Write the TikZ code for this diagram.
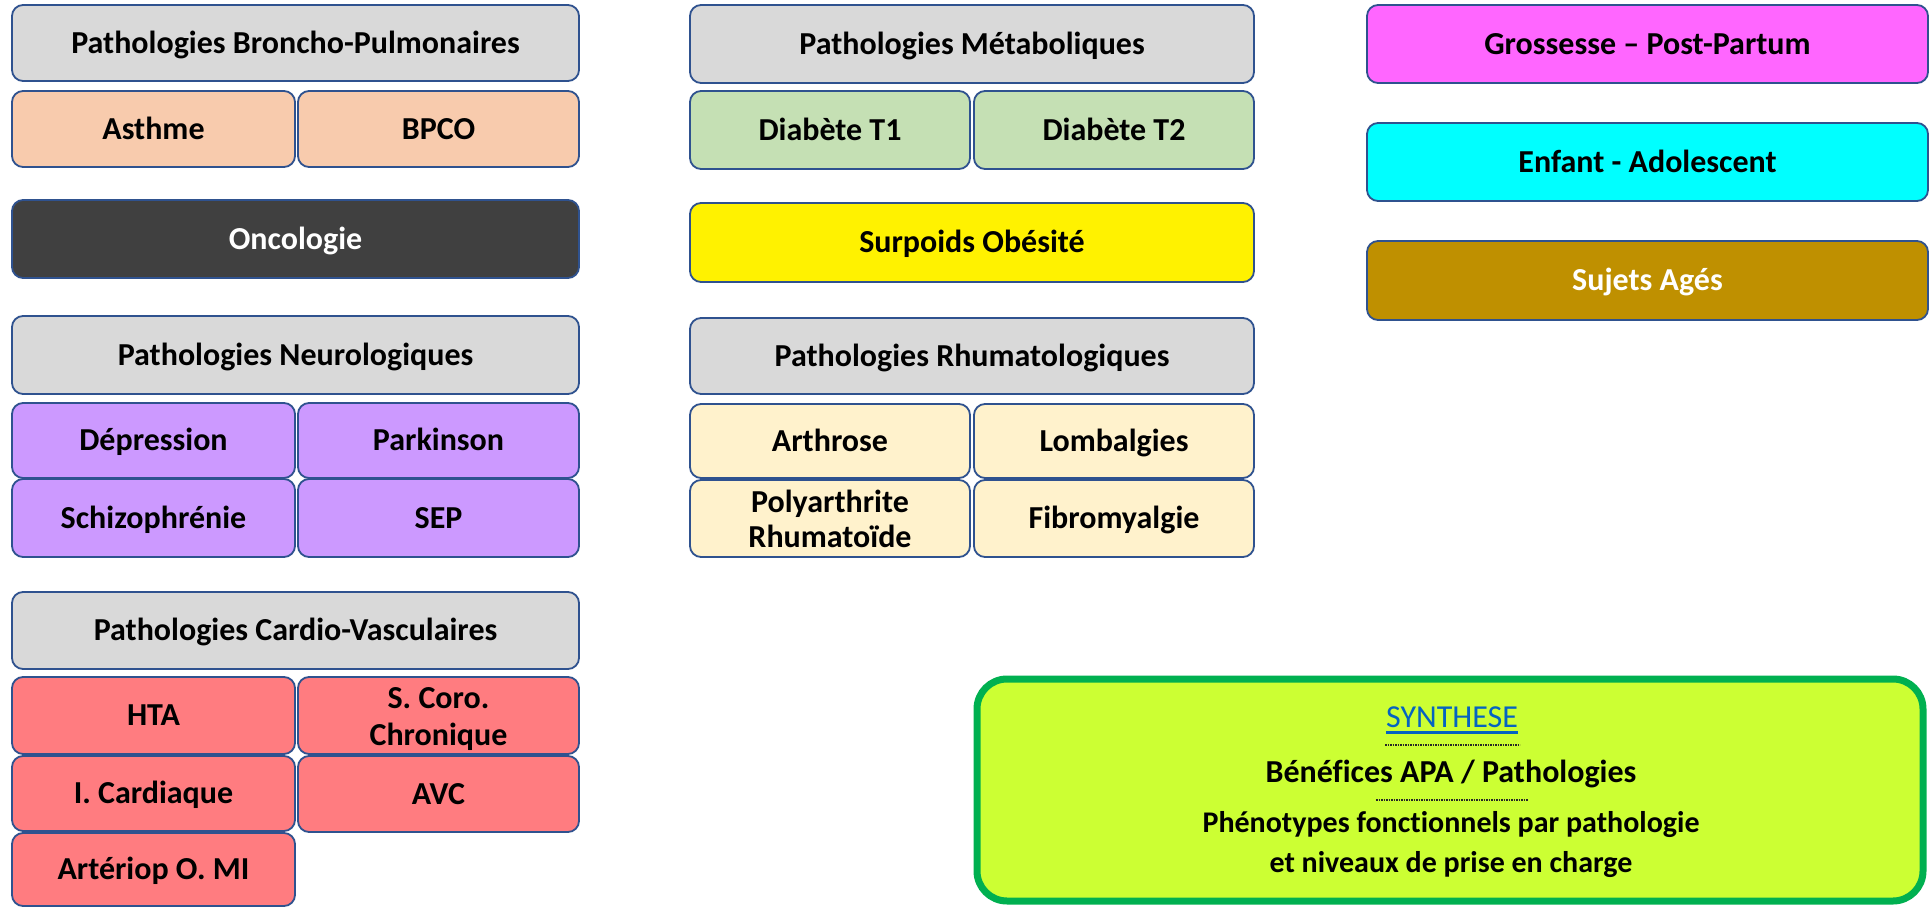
\documentclass[tikz,border=0pt]{standalone}
\usepackage{fontspec}
\setmainfont{Carlito}[Ligatures={NoCommon}]
\definecolor{outline}{HTML}{2F528F}
\definecolor{headgrey}{HTML}{D9D9D9}
\definecolor{peach}{HTML}{F8CBAD}
\definecolor{onco}{HTML}{404040}
\definecolor{lilac}{HTML}{CC99FF}
\definecolor{coral}{HTML}{FF7C80}
\definecolor{sage}{HTML}{C5E0B4}
\definecolor{cream}{HTML}{FFF2CC}
\definecolor{magenta2}{HTML}{FF66FF}
\definecolor{cyan2}{HTML}{00FFFF}
\definecolor{gold}{HTML}{BF9000}
\definecolor{lime}{HTML}{CCFF33}
\definecolor{synborder}{HTML}{00B050}
\definecolor{linkblue}{HTML}{0563C1}

% one rounded cell given by its corners: name, x1, y1, x2, y2, style, text
\newcommand\cell[7]{%
  \pgfmathsetmacro\cellw{#4-#2}%
  \pgfmathsetmacro\cellh{#5-#3}%
  \node[cellbox,#6,minimum width=\cellw pt,minimum height=\cellh pt]
    (#1) at ({(#2+#4)/2},{(#3+#5)/2}) {#7};}

\begin{document}
\begin{tikzpicture}[x=1pt,y=-1pt,
  txt/.style={font=\fontsize{32}{37}\selectfont\bfseries},
  cellbox/.style={draw=outline,line width=1.8pt,rounded corners=11pt,
    inner sep=0pt,align=center,txt,text=black,
    text height=25.6pt,text depth=5pt},
  multi/.style={text height={},text depth={}},
  grey/.style={fill=headgrey},
  sep/.style={black!85,line width=1.3pt,dash pattern=on 1.6pt off 0.9pt}]
\useasboundingbox (0,0) rectangle (1931,907);

% left column
\cell{broncho}{12}{5}{579}{81}{grey}{Pathologies Broncho-Pulmonaires}
\cell{asthme}{12}{91}{295}{167}{fill=peach}{Asthme}
\cell{bpco}{298}{91}{579}{167}{fill=peach}{BPCO}
\cell{oncologie}{12}{200}{579}{278}{fill=onco,text=white}{Oncologie}
\cell{neuro}{12}{316}{579}{394}{grey}{Pathologies Neurologiques}
\cell{depression}{12}{403}{295}{478}{fill=lilac}{Dépression}
\cell{parkinson}{298}{403}{579}{478}{fill=lilac}{Parkinson}
\cell{schizo}{12}{479}{295}{557}{fill=lilac}{Schizophrénie}
\cell{sep}{298}{479}{579}{557}{fill=lilac}{SEP}
\cell{cardio}{12}{592}{579}{669}{grey}{Pathologies Cardio-Vasculaires}
\cell{hta}{12}{677}{295}{754}{fill=coral}{HTA}
\cell{scoro}{298}{677}{579}{754}{fill=coral,text height=60pt,text depth=0pt}{S. Coro.\\Chronique}
\cell{icard}{12}{756}{295}{831}{fill=coral}{I. Cardiaque}
\cell{avc}{298}{756}{579}{832}{fill=coral}{AVC}
\cell{arterio}{12}{833}{295}{906}{fill=coral}{Artériop O. MI}

% middle column
\cell{metab}{690}{5}{1254}{83}{grey}{Pathologies Métaboliques}
\cell{dt1}{690}{91}{970}{169}{fill=sage}{Diabète T1}
\cell{dt2}{974}{91}{1254}{169}{fill=sage}{Diabète T2}
\cell{surpoids}{690}{203}{1254}{282}{fill=yellow}{Surpoids Obésité}
\cell{rhumato}{690}{318}{1254}{394}{grey}{Pathologies Rhumatologiques}
\cell{arthrose}{690}{404}{970}{478}{fill=cream}{Arthrose}
\cell{lombalgies}{974}{404}{1254}{478}{fill=cream}{Lombalgies}
\cell{polyarth}{690}{480}{970}{557}{fill=cream,multi,font=\fontsize{32}{35}\selectfont\bfseries}{Polyarthrite\\Rhumatoïde}
\cell{fibro}{974}{480}{1254}{557}{fill=cream}{Fibromyalgie}

% right column
\cell{grossesse}{1367}{5}{1928}{83}{fill=magenta2}{Grossesse – Post-Partum}
\cell{enfant}{1367}{123}{1928}{201}{fill=cyan2}{Enfant - Adolescent}
\cell{sujets}{1367}{241}{1928}{320}{fill=gold,text=white}{Sujets Agés}

% synthesis panel
\node[draw=synborder,fill=lime,line width=7pt,rounded corners=30pt,
  minimum width=946pt,minimum height=222pt] (synth) at (1450,790) {};
\node[font=\fontsize{32}{38}\selectfont,text=linkblue,inner sep=0pt,
  text height=20.6pt,text depth=0pt]
  (syntitle) at (1452,717) {SYNTHESE};
\draw[linkblue,line width=2.6pt]
  ([yshift=-5pt]syntitle.south west) -- ([yshift=-5pt]syntitle.south east);
\coordinate (s1a) at (1385,745);
\coordinate (s1b) at (1520,745);
\draw[sep] (s1a) -- (s1b);
\node[font=\fontsize{32}{38}\selectfont\bfseries,inner sep=0pt,
  text height=25.6pt,text depth=5pt]
  (benef) at (1451,772) {Bénéfices APA / Pathologies};
\coordinate (s2a) at (1376,800);
\coordinate (s2b) at (1528,800);
\draw[sep] (s2a) -- (s2b);
\node[font=\fontsize{30}{40}\selectfont\bfseries,inner sep=0pt,align=center]
  (pheno) at (1451,845) {Phénotypes fonctionnels par pathologie\\et niveaux de prise en charge};
\end{tikzpicture}
\end{document}
